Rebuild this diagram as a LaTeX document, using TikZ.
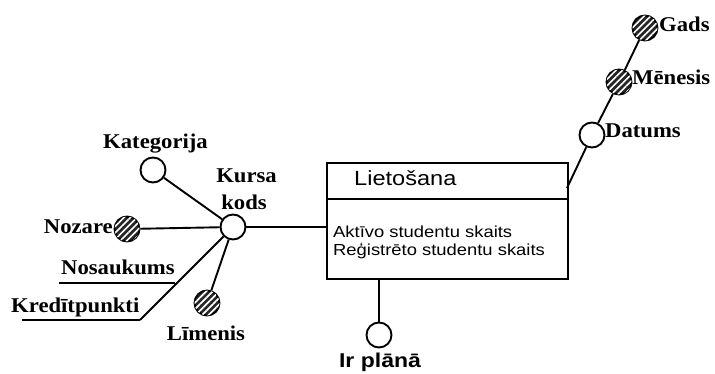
\documentclass[tikz,border=0pt]{standalone}
\usepackage{fontspec}
\setmainfont{Liberation Serif}[FakeStretch=1.08]
\newfontfamily\boxfont{Liberation Sans}[FakeStretch=1.15]
\usetikzlibrary{patterns.meta}
\begin{document}
\begin{tikzpicture}[x=1pt,y=-1pt,
  link/.style={line width=1.9pt},
  attr/.style={circle,draw,line width=1.9pt,minimum size=25pt,inner sep=0pt,fill=white},
  multi/.style={attr,fill=black!85,
    postaction={pattern={Lines[angle=45,distance=4.6pt,line width=1.7pt]},pattern color=white}},
  lbl/.style={inner sep=0pt,font=\fontsize{21}{25}\selectfont\bfseries},
  boxtxt/.style={inner sep=0pt,font=\boxfont\fontsize{16}{19}\selectfont},
  boxtitle/.style={inner sep=0pt,font=\boxfont\fontsize{20.5}{24}\selectfont},
  sanslbl/.style={inner sep=0pt,font=\boxfont\fontsize{20}{24}\selectfont\bfseries}
]
\useasboundingbox (0,0) rectangle (715,374);

% entity box
\node[draw,line width=1.7pt,minimum width=241pt,minimum height=116pt,inner sep=0pt,anchor=north west] (box) at (326,162) {};
\coordinate (divL) at (326,199);
\coordinate (divR) at (567,199);
\draw[line width=1.7pt] (divL) -- (divR);
\node[boxtitle,anchor=base west] (title) at (354,186) {Lietošana};
\node[boxtxt,anchor=base west] (m1) at (333,237) {Aktīvo studentu skaits};
\node[boxtxt,anchor=base west] (m2) at (333,256) {Reģistrēto studentu skaits};

% attribute circles
\node[attr] (kat) at (153,170) {};
\node[attr] (kursa) at (233,227) {};
\node[multi] (noz) at (127,229) {};
\node[multi] (lim) at (207,303) {};
\node[attr] (dat) at (592,135) {};
\node[multi] (men) at (619,82) {};
\node[multi] (gads) at (645,28) {};
\node[attr] (irp) at (379,335) {};

% free ends of connectors
\coordinate (boxR) at (567,188);
\coordinate (kreEnd) at (140,320);
\coordinate (kreStart) at (22,320);
\coordinate (nosEnd) at (175,283);
\coordinate (nosStart) at (59,283);

% connectors
\draw[link] (kat) -- (kursa);
\draw[link] (noz) -- (kursa);
\draw[link] (lim) -- (kursa);
\draw[link] (kreEnd) -- (kursa);
\draw[link] (kreStart) -- (kreEnd);
\draw[link] (nosStart) -- (nosEnd);
\draw[link] (kursa) -- (kursa -| box.west);
\draw[link] (boxR) -- (dat) -- (men) -- (gads);
\draw[link] (irp |- box.south) -- (irp);

% labels
\node[lbl,anchor=base] (katL) at (155.5,149) {Kategorija};
\node[lbl,anchor=base] (kursaL1) at (246.5,183) {Kursa};
\node[lbl,anchor=base] (kursaL2) at (244,210) {kods};
\node[lbl,anchor=base east] (nozL) at (113,234) {Nozare};
\node[lbl,anchor=base west] (nosL) at (61,275) {Nosaukums};
\node[lbl,anchor=base west] (kreL) at (11,312) {Kredītpunkti};
\node[lbl,anchor=base] (limL) at (206,340) {Līmenis};
\node[lbl,anchor=base west] (datL) at (605,138) {Datums};
\node[lbl,anchor=base west] (menL) at (632,85) {Mēnesis};
\node[lbl,anchor=base west] (gadsL) at (659,32) {Gads};
\node[sanslbl,anchor=base] (irpL) at (380,367) {Ir plānā};
\end{tikzpicture}
\end{document}
